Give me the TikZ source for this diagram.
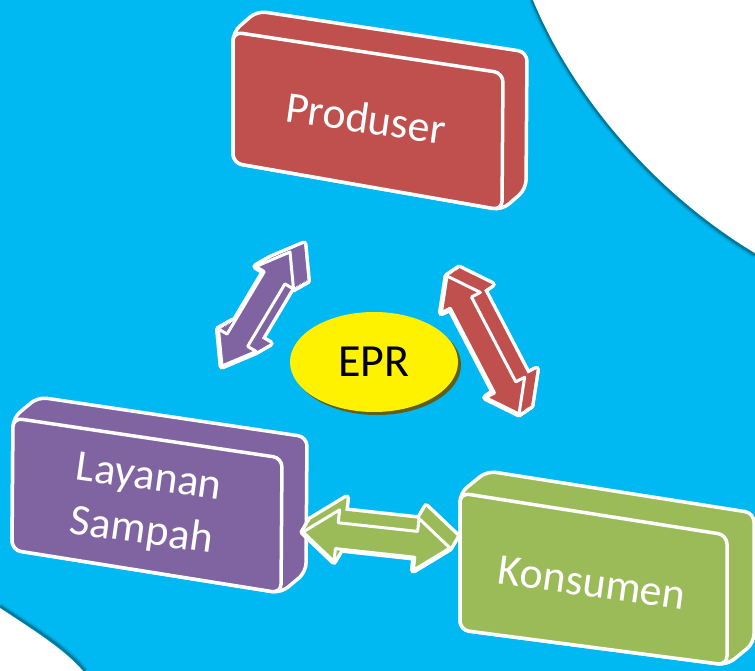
\documentclass[tikz,border=0pt]{standalone}
\usepackage{fontspec}
\setmainfont{Carlito}
\usetikzlibrary{calc,shapes.geometric}
\definecolor{bgcyan}{RGB}{0,184,242}
\definecolor{boxred}{RGB}{192,80,77}
\definecolor{boxpurple}{RGB}{128,100,162}
\definecolor{boxgreen}{RGB}{155,187,89}
\definecolor{eprshadow}{RGB}{95,95,25}
\newcommand{\arrowpath}[3]{(#1a) -- ($(#1h1)!#2!90:(#1b)$) -- ($(#1h1)!#3!90:(#1b)$) -- ($(#1h2)!#3!-90:(#1a)$) -- ($(#1h2)!#2!-90:(#1a)$) -- (#1b) -- ($(#1h2)!#2!90:(#1a)$) -- ($(#1h2)!#3!90:(#1a)$) -- ($(#1h1)!#3!-90:(#1b)$) -- ($(#1h1)!#2!-90:(#1b)$) -- cycle}
% #1 name, #2 start, #3 end, #4 colour, #5 head length, #6 head half width, #7 shaft half width, #8 #9 depth shift
\newcommand{\blockarrow}[9]{%
  \coordinate (#1a) at #2;
  \coordinate (#1b) at #3;
  \coordinate (#1h1) at ($(#1a)!#5!(#1b)$);
  \coordinate (#1h2) at ($(#1b)!#5!(#1a)$);
  \foreach \s in {0,0.1,...,1.01}{%
    \begin{scope}[transform canvas={shift={(\s*#8,\s*#9)}}]
      \path[draw=white,line width=7pt,line join=round] \arrowpath{#1}{#6}{#7};
    \end{scope}}
  \foreach \s in {0,0.1,...,1.01}{%
    \begin{scope}[transform canvas={shift={(\s*#8,\s*#9)}}]
      \path[fill=#4] \arrowpath{#1}{#6}{#7};
    \end{scope}}
  \path[fill=#4,draw=white,line width=3pt,line join=round] \arrowpath{#1}{#6}{#7};
}
\tikzset{
  boxface/.style={draw=white,line width=3.5pt,rounded corners=9pt,line join=round},
  lbl/.style={text=white,font=\fontsize{44}{54}\selectfont,inner sep=0pt},
}
\begin{document}
\begin{tikzpicture}[x=1pt,y=-1pt]
\useasboundingbox (0,0) rectangle (755,671);
\fill[bgcyan] (0,0) rectangle (755,671);
% white corners with shadow
\foreach \w/\o in {7/0.07,4/0.12,2/0.2}{
  \draw[black,opacity=\o,line width=\w pt] (532,0) .. controls (569,91) and (649,191) .. (755,255);
  \draw[black,opacity=\o,line width=\w pt] (0,606) .. controls (31,627) and (65,646) .. (85,671);
}
\fill[white] (533,0) .. controls (570,90) and (650,190) .. (755,253) -- (755,0) -- cycle;
\fill[white] (0,608) .. controls (30,628) and (63,648) .. (83,671) -- (0,671) -- cycle;
% Produser box
\draw[boxface,fill=boxred] (233,32) -- (257,11) -- (527,52) -- (526,189) -- (502,210) -- (233,163) -- cycle;
\draw[boxface,fill=boxred] (233,32) -- (503,73) -- (502,210) -- (233,163) -- cycle;
\node[lbl,rotate=-8] (prod) at (366,118) {Produser};
% Layanan Sampah box
\draw[boxface,fill=boxpurple] (13,418) -- (38,397) -- (307,437) -- (306,572) -- (281,593) -- (12,550) -- cycle;
\draw[boxface,fill=boxpurple] (13,418) -- (282,458) -- (281,593) -- (12,550) -- cycle;
\node[lbl,rotate=-8,align=center] (lay) at (145,506) {Layanan\\Sampah};
% Konsumen box
\draw[boxface,fill=boxgreen] (460,493) -- (487,471) -- (754,513) -- (754,643) -- (727,665) -- (460,630) -- cycle;
\draw[boxface,fill=boxgreen] (460,493) -- (727,535) -- (727,665) -- (460,630) -- cycle;
\node[lbl,rotate=-8] (kons) at (592,583) {Konsumen};
% arrows
\blockarrow{pa}{(222,366)}{(290,252)}{boxpurple}{30pt}{22pt}{12pt}{14pt}{8pt}
\blockarrow{ra}{(447,276)}{(519,414)}{boxred}{30pt}{22pt}{12pt}{12pt}{8pt}
\blockarrow{ga}{(303,532)}{(450,548)}{boxgreen}{34pt}{26pt}{13pt}{7pt}{12pt}
% EPR
\fill[eprshadow] (377,365) ellipse [x radius=84pt,y radius=50pt];
\node[ellipse,fill=yellow,minimum width=168pt,minimum height=100pt,inner sep=0pt,
  font=\fontsize{46}{50}\selectfont] (epr) at (374,362) {EPR};
\end{tikzpicture}
\end{document}
